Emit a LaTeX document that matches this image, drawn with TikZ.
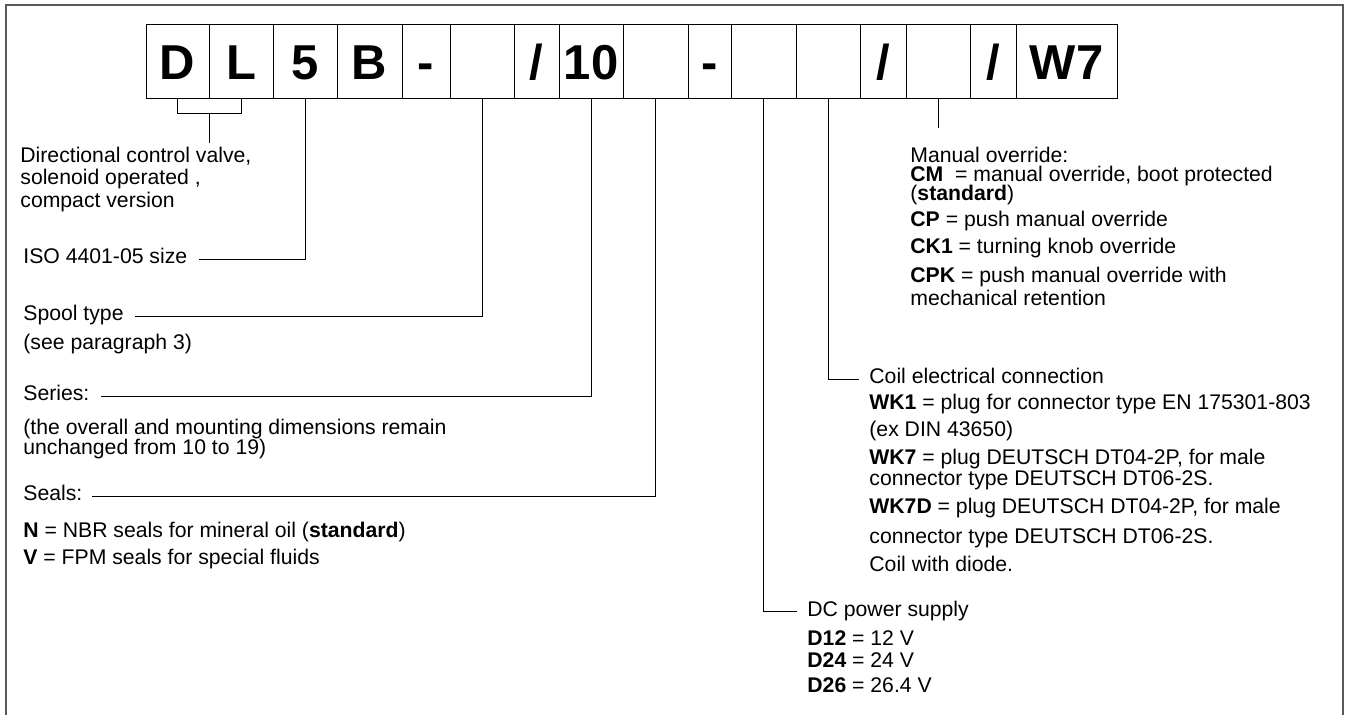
\documentclass[tikz,border=0pt]{standalone}
\usepackage{fontspec}
\setmainfont{Liberation Sans}
\usetikzlibrary{calc}

\begin{document}
\begin{tikzpicture}[x=0.5pt, y=-0.5pt,
  box/.style={draw, line width=0.5pt, inner sep=0pt, minimum height=37pt,
    text height=17.5pt, text depth=0pt, font=\fontsize{24.5}{26}\selectfont\bfseries},
  lbl/.style={anchor=base west, inner sep=0pt, text height=8pt, text depth=3.5pt,
    font=\fontsize{10.6}{12}\selectfont},
  lead/.style={line width=0.5pt},
  frame/.style={line width=1pt, black!65}]

\useasboundingbox (0,0) rectangle (1348,715);

% ── Frame (open at the bottom) ───────────────────────────────
\draw[frame] (6,715) -- (6,5) -- (1343,5) -- (1343,715);

% ── Ordering code boxes: name / left edge / right edge / text ─
\foreach \nm/\xl/\xr/\txt in {bD/146/209/D, bL/209/273/L, b5/273/337/5, bB/337/402/B,
    bDashA/402/450/-, bSpool/450/514/{}, bSlashA/514/559/{/}, b10/559/623/10,
    bSeal/623/688/{}, bDashB/688/731/-, bVolt/731/796/{}, bCoil/796/860/{},
    bSlashB/860/906/{/}, bMan/906/970/{}, bSlashC/970/1016/{/}, bW7/1016/1117/W7} {
    \pgfmathsetmacro\bw{(\xr-\xl)*0.5}
    \node[box, minimum width=\bw pt] (\nm) at ({(\xl+\xr)/2}, 62) {\txt};
}

% ── LEFT COLUMN ──────────────────────────────────────────────

% Valve type (bracket under D and L)
\foreach \nm/\yy/\txt in {dir1/163/{Directional control valve,},
    dir2/185/{solenoid operated ,}, dir3/208/{compact version}}
    \node[lbl] (\nm) at (20, \yy) {\txt};

% Size, spool, series, seals  (x = 23, baselines in px)
\node[lbl] (iso)     at (23, 264) {ISO 4401-05 size};
\node[lbl] (spool)   at (23, 321) {Spool type};
\node[lbl] (spoolA)  at (23, 350) {(see paragraph 3)};
\node[lbl] (series)  at (23, 401) {Series:};
\node[lbl] (seriesA) at (23, 435) {(the overall and mounting dimensions remain};
\node[lbl] (seriesB) at (23, 455) {unchanged from 10 to 19)};
\node[lbl] (seals)   at (23, 501) {Seals:};
\node[lbl] (sealN)   at (23, 538) {\textbf{N} = NBR seals for mineral oil (\textbf{standard})};
\node[lbl] (sealV)   at (23, 564) {\textbf{V} = FPM seals for special fluids};

% ── RIGHT COLUMN ─────────────────────────────────────────────

% Manual override
\foreach \nm/\yy/\txt in {man1/163/{Manual override:},
    man2/182/{\textbf{CM}\ \ = manual override, boot protected},
    man3/201/{(\textbf{standard})},
    man4/227/{\textbf{CP} = push manual override},
    man5/254/{\textbf{CK1} = turning knob override},
    man6/283/{\textbf{CPK} = push manual override with},
    man7/306/{mechanical retention}}
    \node[lbl] (\nm) at (910, \yy) {\txt};

% Coil electrical connection
\foreach \nm/\yy/\txt in {coil1/384/{Coil electrical connection},
    coil2/410/{\textbf{WK1} = plug for connector type EN 175301-803},
    coil3/437/{(ex DIN 43650)},
    coil4/465/{\textbf{WK7} = plug DEUTSCH DT04-2P, for male},
    coil5/486/{connector type DEUTSCH DT06-2S.},
    coil6/513/{\textbf{WK7D} = plug DEUTSCH DT04-2P, for male},
    coil7/544/{connector type DEUTSCH DT06-2S.},
    coil8/571/{Coil with diode.}}
    \node[lbl] (\nm) at (869, \yy) {\txt};

% DC power supply
\foreach \nm/\yy/\txt in {dc1/616/{DC power supply},
    dc2/645/{\textbf{D12} = 12 V}, dc3/667/{\textbf{D24} = 24 V},
    dc4/692/{\textbf{D26} = 26.4 V}}
    \node[lbl] (\nm) at (807, \yy) {\txt};

% ── Leader lines ─────────────────────────────────────────────
\draw[lead] (bD.south) -- ++(0,14) -| (bL.south);
\coordinate (dlmid) at ($(bD.south)!0.5!(bL.south)+(0,14)$);
\draw[lead, shorten >=1.8pt] (dlmid) -- (dlmid |- dir1.north);

\draw[lead, shorten >=5.5pt] (b5.south) |- (iso.east);
\draw[lead, shorten >=5.5pt] (bSpool.south) |- (spool.east);
\draw[lead, shorten >=5.5pt] (b10.south) |- (series.east);
\draw[lead, shorten >=4.5pt] (bSeal.south) |- (seals.east);

\draw[lead, shorten >=5pt] (bVolt.south) |- (dc1.west);
\draw[lead, shorten >=5pt] (bCoil.south) |- (coil1.west);
\draw[lead, shorten >=9.3pt] (bMan.south) -- (bMan.south |- man1.north);

\end{tikzpicture}
\end{document}
